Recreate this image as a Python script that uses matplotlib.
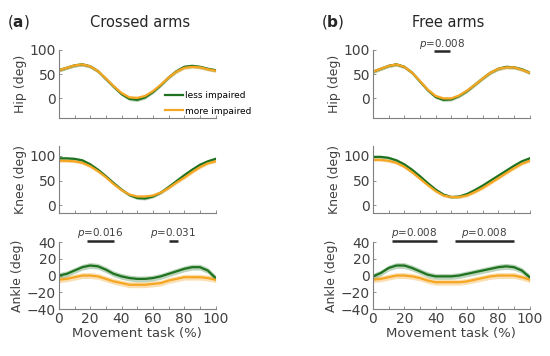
import numpy as np
import matplotlib.pyplot as plt

plt.rcParams['font.family'] = ['DejaVu Sans']

# movement task (%) sampled every 5 %
pct = np.arange(0, 101, 5)

# Hip (deg) - crossed arms
hip_a_less = [58, 63, 68, 70, 66, 56, 40, 24, 9, -1, -3, 2, 13, 27, 43, 56, 65, 67, 65, 61, 58]
hip_a_more = [58, 63, 68, 70, 66, 56, 41, 25, 11, 2, 1, 5, 15, 28, 43, 55, 63, 65, 64, 60, 57]
# Hip (deg) - free arms
hip_b_less = [55, 61, 67, 70, 65, 53, 35, 17, 3, -3, -2, 5, 15, 28, 41, 53, 61, 65, 64, 60, 53]
hip_b_more = [55, 61, 67, 70, 65, 53, 36, 18, 5, 0, 0, 6, 16, 28, 41, 53, 61, 64, 64, 59, 53]

# Knee (deg)
knee_a_less = [95, 95, 94, 91, 83, 72, 59, 45, 32, 21, 15, 14, 18, 26, 37, 49, 61, 72, 82, 89, 94]
knee_a_more = [90, 90, 89, 86, 79, 69, 57, 43, 31, 22, 18, 18, 20, 26, 35, 46, 56, 67, 77, 85, 89]
knee_b_less = [98, 98, 96, 91, 83, 72, 59, 45, 32, 22, 17, 18, 23, 31, 40, 50, 60, 70, 80, 89, 95]
knee_b_more = [92, 92, 90, 86, 78, 67, 54, 41, 29, 20, 17, 17, 20, 27, 35, 45, 55, 65, 75, 84, 90]

# Ankle (deg)
ankle_a_less = [0, 2, 6, 10, 12, 11, 7, 2, -1, -3, -4, -4, -3, -1, 2, 5, 8, 10, 10, 6, -3]
ankle_a_more = [-5, -4, -2, 0, 0, -1, -4, -7, -9, -11, -11, -11, -10, -9, -6, -4, -2, -2, -2, -3, -5]
ankle_b_less = [-1, 3, 9, 12, 12, 9, 5, 1, -1, -1, -1, 0, 2, 4, 6, 8, 10, 11, 10, 6, -2]
ankle_b_more = [-5, -4, -2, 0, 0, -1, -3, -6, -8, -8, -8, -8, -7, -5, -3, -1, 0, 0, 0, -2, -5]

band_hip = 3.5
band_knee = 3.0
band_ankle = 3.5

# significance bars: (start %, end %, label)
sig_hip_b = [(39, 49.5, '0.008')]
sig_ankle_a = [(18, 35, '0.016'), (70, 76, '0.031')]
sig_ankle_b = [(12, 41, '0.008'), (52.5, 90, '0.008')]

green = '#1f721f'
orange = '#f5a623'
grey = '#404040'

fig = plt.figure(figsize=(5.5, 3.56), dpi=100)

cols = [0.107, 0.678]
rows = [(0.669, 0.191, (-40, 100), [0, 50, 100], 'Hip (deg)'),
        (0.402, 0.188, (-15, 120), [0, 50, 100], 'Knee (deg)'),
        (0.132, 0.188, (-40, 40), [-40, -20, 0, 20, 40], 'Ankle (deg)')]

data = [[(hip_a_less, hip_a_more, band_hip), (knee_a_less, knee_a_more, band_knee),
         (ankle_a_less, ankle_a_more, band_ankle)],
        [(hip_b_less, hip_b_more, band_hip), (knee_b_less, knee_b_more, band_knee),
         (ankle_b_less, ankle_b_more, band_ankle)]]
sigs = [[[], [], sig_ankle_a], [sig_hip_b, [], sig_ankle_b]]

for c, x0 in enumerate(cols):
    for r, (y0, h, ylim, yticks, ylabel) in enumerate(rows):
        ax = fig.add_axes([x0, y0, 0.285, h])
        less, more, band = data[c][r]
        less = np.array(less)
        more = np.array(more)
        ax.fill_between(pct, more - band, more + band, color=orange, alpha=0.35, lw=0)
        ax.fill_between(pct, less - band, less + band, color=green, alpha=0.3, lw=0)
        ax.plot(pct, less, color=green, lw=1.6, label='less impaired')
        ax.plot(pct, more, color=orange, lw=1.6, label='more impaired')
        ax.set_xlim(0, 100)
        ax.set_ylim(*ylim)
        ax.set_yticks(yticks)
        ax.set_xticks(np.arange(0, 101, 10), minor=True)
        ax.set_xticks(np.arange(0, 101, 20))
        for s in ['top', 'right']:
            ax.spines[s].set_visible(False)
        for s in ['left', 'bottom']:
            ax.spines[s].set_color('#7f7f7f')
            ax.spines[s].set_linewidth(0.8)
        ax.tick_params(direction='in', length=2, width=0.6, color='#7f7f7f',
                       labelsize=10, labelcolor=grey, pad=2)
        ax.tick_params(which='minor', direction='in', length=2, width=0.6, color='#7f7f7f')
        ax.set_ylabel(ylabel, fontsize=9, color=grey, labelpad=2)
        if r < 2:
            ax.set_xticklabels([])
        else:
            ax.set_xlabel('Movement task (%)', fontsize=9.5, color=grey, labelpad=1)
        # significance bars
        ybar = ylim[1] - 3 if r == 0 else ylim[1] + 1.5
        ytxt = ybar + (16 if r == 0 else 9)
        for a, b, p in sigs[c][r]:
            ax.plot([a, b], [ybar, ybar], color='#262626', lw=1.8, clip_on=False,
                    solid_capstyle='butt')
            ax.text((a + b) / 2, ytxt, '$p$=' + p, ha='center', va='center',
                    fontsize=7.5, color=grey, clip_on=False)
        if c == 0 and r == 0:
            ax.legend(loc='lower right', bbox_to_anchor=(1.27, -0.06), frameon=False,
                      fontsize=6.5, handlelength=1.9, handletextpad=0.3,
                      labelspacing=0.75, borderpad=0.2)

fig.text(0.012, 0.938, r'($\bf{a}$)', fontsize=11, color='#262626', va='center')
fig.text(0.255, 0.938, 'Crossed arms', fontsize=10.5, color='#262626', ha='center', va='center')
fig.text(0.583, 0.938, r'($\bf{b}$)', fontsize=11, color='#262626', va='center')
fig.text(0.815, 0.938, 'Free arms', fontsize=10.5, color='#262626', ha='center', va='center')

fig.savefig('out.png', dpi=100)
